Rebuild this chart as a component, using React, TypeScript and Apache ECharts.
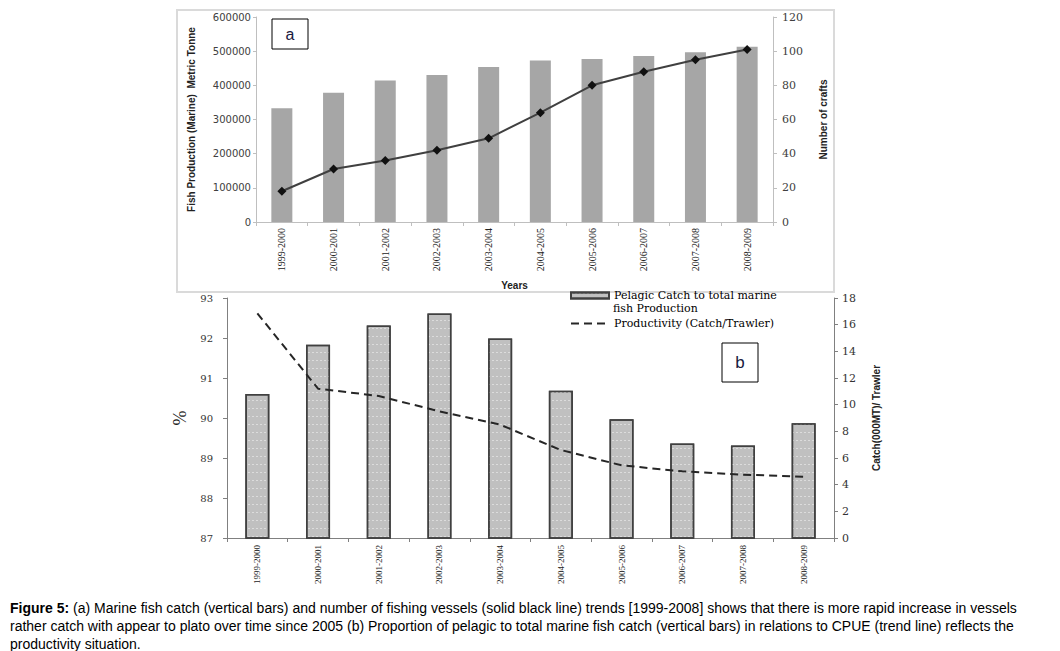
import React, { useEffect, useRef } from "react";
import * as echarts from "echarts";

// ---------- DATA ----------
const years = [
  "1999-2000", "2000-2001", "2001-2002", "2002-2003", "2003-2004",
  "2004-2005", "2005-2006", "2006-2007", "2007-2008", "2008-2009",
];
// Chart a
const fishProduction = [333000, 378000, 414000, 430000, 454000, 473000, 477000, 486000, 497000, 513000];
const numberOfCrafts = [18, 31, 36, 42, 49, 64, 80, 88, 95, 101];
// Chart b
const pelagicShare = [90.6, 91.83, 92.31, 92.61, 91.99, 90.68, 89.97, 89.36, 89.31, 89.87];
const productivity = [16.85, 11.2, 10.65, 9.5, 8.5, 6.6, 5.45, 5.0, 4.75, 4.6];

const pelagicLine1 = "Pelagic Catch to total marine";
const pelagicLine2 = "fish Production";
const pelagicName = pelagicLine1 + " " + pelagicLine2;
const productivityName = "Productivity (Catch/Trawler)";

const captionLines = [
  "(a) Marine fish catch (vertical bars) and number of fishing vessels (solid black line) trends [1999-2008] shows that there is more rapid increase in vessels",
  "rather catch with appear to plato over time since 2005 (b) Proportion of pelagic to total marine fish catch (vertical bars) in relations to CPUE (trend line) reflects the",
  "productivity situation.",
];

export default function App() {
  const ref = useRef<HTMLDivElement>(null);

  useEffect(() => {
    if (!ref.current) return;
    const chart = echarts.init(ref.current, undefined, { renderer: "svg" });
    const serif = "Liberation Serif, Times New Roman, serif";
    const wideSerif = "DejaVu Serif, serif";
    const narrow = "Liberation Sans Narrow, Liberation Sans, Arial, sans-serif";
    const capFont = "Liberation Sans, Arial, sans-serif";
    const plain = (v: number) => String(v);

    const option: any = {
      animation: false,
      backgroundColor: "#ffffff",
      grid: [
        { left: 256, top: 17, width: 517, height: 205, containLabel: false },
        { left: 227, top: 298, width: 607, height: 240, containLabel: false },
      ],
      legend: [
        {
          data: [pelagicName],
          orient: "vertical",
          left: 570,
          top: 290,
          padding: 0,
          itemWidth: 38,
          itemHeight: 6,
          icon: "rect",
          selectedMode: false,
          formatter: () => pelagicLine1,
          textStyle: { fontFamily: wideSerif, fontSize: 11, color: "#000" },
        },
        {
          data: [productivityName],
          orient: "vertical",
          left: 570,
          top: 318,
          padding: 0,
          itemWidth: 38,
          itemHeight: 1,
          itemStyle: { opacity: 0 },
          selectedMode: false,
          textStyle: { fontFamily: wideSerif, fontSize: 11, color: "#000" },
        },
      ],
      xAxis: [
        {
          type: "category",
          gridIndex: 0,
          data: years,
          axisLine: { lineStyle: { color: "#bfbfbf", width: 1 } },
          axisTick: { show: true, length: 4, alignWithLabel: false, lineStyle: { color: "#bfbfbf" } },
          axisLabel: { rotate: 90, fontFamily: serif, fontSize: 10, color: "#222", margin: 6, interval: 0 },
          name: "Years",
          nameLocation: "middle",
          nameGap: 58,
          nameTextStyle: { fontFamily: narrow, fontWeight: "bold", fontSize: 10, color: "#222" },
        },
        {
          type: "category",
          gridIndex: 1,
          data: years,
          axisLine: { lineStyle: { color: "#808080", width: 1 } },
          axisTick: { show: true, length: 4, lineStyle: { color: "#808080" } },
          axisLabel: { rotate: 90, fontFamily: serif, fontSize: 9, color: "#222", margin: 7, interval: 0 },
        },
      ],
      yAxis: [
        {
          type: "value",
          gridIndex: 0,
          min: 0,
          max: 600000,
          interval: 100000,
          splitLine: { show: false },
          axisLine: { show: true, lineStyle: { color: "#bfbfbf" } },
          axisTick: { show: true, length: 3, lineStyle: { color: "#bfbfbf" } },
          axisLabel: { fontFamily: "DejaVu Sans, sans-serif", fontSize: 10, color: "#404040", margin: 5, formatter: plain },
          name: "Fish Production (Marine)  Metric Tonne",
          nameLocation: "middle",
          nameGap: 60,
          nameRotate: 90,
          nameTextStyle: { fontFamily: narrow, fontWeight: "bold", fontSize: 10, color: "#222" },
        },
        {
          type: "value",
          gridIndex: 0,
          position: "right",
          min: 0,
          max: 120,
          interval: 20,
          splitLine: { show: false },
          axisLine: { show: true, lineStyle: { color: "#bfbfbf" } },
          axisTick: { show: true, length: 4, lineStyle: { color: "#bfbfbf" } },
          axisLabel: { fontFamily: wideSerif, fontSize: 11, color: "#404040", margin: 9, formatter: plain },
          name: "Number of crafts",
          nameLocation: "middle",
          nameGap: 45,
          nameRotate: 90,
          nameTextStyle: { fontFamily: narrow, fontWeight: "bold", fontSize: 10, color: "#222" },
        },
        {
          type: "value",
          gridIndex: 1,
          min: 87,
          max: 93,
          interval: 1,
          splitLine: { show: false },
          axisLine: { show: true, lineStyle: { color: "#808080" } },
          axisTick: { show: true, length: 4, lineStyle: { color: "#808080" } },
          axisLabel: { fontFamily: wideSerif, fontSize: 10, color: "#333", margin: 14, formatter: plain },
          name: "%",
          nameLocation: "middle",
          nameGap: 38,
          nameRotate: 90,
          nameTextStyle: { fontFamily: serif, fontSize: 18, color: "#222" },
        },
        {
          type: "value",
          gridIndex: 1,
          position: "right",
          min: 0,
          max: 18,
          interval: 2,
          splitLine: { show: false },
          axisLine: { show: true, lineStyle: { color: "#808080" } },
          axisTick: { show: true, length: 4, lineStyle: { color: "#808080" } },
          axisLabel: { fontFamily: wideSerif, fontSize: 11, color: "#333", margin: 8, formatter: plain },
          name: "Catch(000MT)/ Trawler",
          nameLocation: "middle",
          nameGap: 37,
          nameRotate: 90,
          nameTextStyle: { fontFamily: narrow, fontWeight: "bold", fontSize: 10, color: "#222" },
        },
      ],
      series: [
        {
          name: "Fish Production",
          type: "bar",
          xAxisIndex: 0,
          yAxisIndex: 0,
          data: fishProduction,
          barWidth: 21,
          itemStyle: { color: "#a6a6a6" },
        },
        {
          name: "Number of crafts",
          type: "line",
          xAxisIndex: 0,
          yAxisIndex: 1,
          data: numberOfCrafts,
          symbol: "diamond",
          symbolSize: 9,
          lineStyle: { color: "#404040", width: 2 },
          itemStyle: { color: "#111" },
        },
        {
          name: pelagicName,
          type: "bar",
          xAxisIndex: 1,
          yAxisIndex: 2,
          data: pelagicShare,
          barWidth: 24,
          itemStyle: {
            color: "#c0c0c0",
            borderColor: "#404040",
            borderWidth: 1.5,
            decal: {
              symbol: "rect",
              color: "rgba(255,255,255,0.45)",
              dashArrayX: [2, 2],
              dashArrayY: [1, 7],
              symbolSize: 1,
              rotation: 0,
            },
          },
        },
        {
          name: productivityName,
          type: "line",
          xAxisIndex: 1,
          yAxisIndex: 3,
          data: productivity,
          symbol: "none",
          lineStyle: { color: "#262626", width: 2, type: [8, 5] },
          itemStyle: { color: "#262626" },
        },
      ],
      graphic: [
        {
          type: "rect",
          shape: { x: 177, y: 10, width: 657, height: 282 },
          style: { fill: "none", stroke: "#dadada", lineWidth: 2 },
          z: -1,
        },
        {
          type: "text",
          x: 613,
          y: 308,
          style: { text: pelagicLine2, fontFamily: wideSerif, fontSize: 11, fill: "#000", verticalAlign: "middle" },
        },
        {
          type: "rect",
          shape: { x: 272, y: 19, width: 36, height: 30 },
          style: { fill: "#fff", stroke: "#000", lineWidth: 1 },
          z: 10,
        },
        {
          type: "text",
          x: 290,
          y: 34,
          style: { text: "a", fontFamily: capFont, fontSize: 16, fill: "#1a1a40", align: "center", verticalAlign: "middle" },
          z: 11,
        },
        {
          type: "rect",
          shape: { x: 722, y: 343, width: 36, height: 39 },
          style: { fill: "#fff", stroke: "#000", lineWidth: 1 },
          z: 10,
        },
        {
          type: "text",
          x: 740,
          y: 362,
          style: { text: "b", fontFamily: capFont, fontSize: 17, fill: "#1a1a40", align: "center", verticalAlign: "middle" },
          z: 11,
        },
        {
          type: "text",
          x: 10,
          y: 608,
          style: {
            text: "{b|Figure 5:} " + captionLines[0],
            rich: { b: { fontWeight: "bold", fontFamily: capFont, fontSize: 14, fill: "#000" } },
            fontFamily: capFont,
            fontSize: 14,
            fill: "#000",
            verticalAlign: "middle",
          },
        },
        {
          type: "text",
          x: 10,
          y: 626,
          style: { text: captionLines[1], fontFamily: capFont, fontSize: 14, fill: "#000", verticalAlign: "middle" },
        },
        {
          type: "text",
          x: 10,
          y: 644,
          style: { text: captionLines[2], fontFamily: capFont, fontSize: 14, fill: "#000", verticalAlign: "middle" },
        },
      ],
    };

    chart.setOption(option);
    return () => chart.dispose();
  }, []);

  return (
    <div
      ref={ref}
      style={{ position: "fixed", left: 0, top: 0, width: 1060, height: 651, background: "#fff" }}
    />
  );
}
